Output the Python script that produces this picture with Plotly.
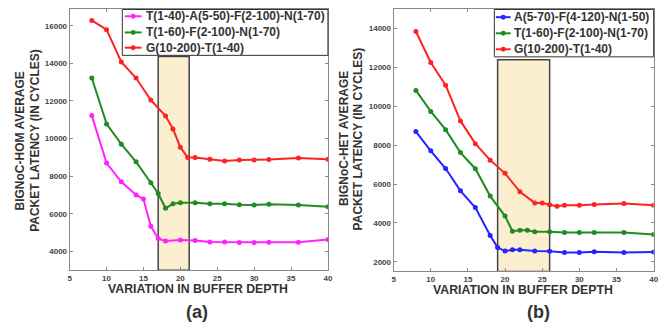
import plotly.graph_objects as go

# ---------------- data ----------------
# Panel (a) BIGNoC-HOM
a_mag_x = [8, 10, 12, 14, 15, 16, 17, 18, 20, 22, 24, 26, 28, 30, 32, 36, 40]
a_mag_y = [11220, 8700, 7700, 7000, 6780, 5330, 4680, 4550, 4600, 4580, 4500, 4500, 4470, 4470, 4480, 4480, 4630]
a_grn_x = [8, 10, 12, 14, 16, 17, 18, 19, 20, 22, 24, 26, 28, 30, 32, 36, 40]
a_grn_y = [13220, 10780, 9700, 8760, 7650, 7080, 6290, 6530, 6580, 6580, 6530, 6530, 6480, 6460, 6500, 6460, 6370]
a_red_x = [8, 10, 12, 14, 16, 18, 19, 20, 21, 22, 24, 26, 28, 30, 32, 36, 40]
a_red_y = [16280, 15790, 14070, 13220, 12050, 11200, 10510, 9540, 8990, 8990, 8900, 8810, 8865, 8865, 8880, 8970, 8900]
a_names = ["T(1-40)-A(5-50)-F(2-100)-N(1-70)", "T(1-60)-F(2-100)-N(1-70)", "G(10-200)-T(1-40)"]
a_band = [17, 21.2, 14370]

# Panel (b) BIGNoC-HET
b_blu_x = [8, 10, 12, 14, 16, 18, 19, 20, 21, 22, 24, 26, 28, 30, 32, 36, 40]
b_blu_y = [8700, 7710, 6800, 5650, 4790, 3350, 2730, 2550, 2620, 2620, 2550, 2540, 2480, 2480, 2520, 2480, 2500]
b_grn_x = [8, 10, 12, 14, 16, 18, 20, 21, 22, 23, 24, 26, 28, 30, 32, 36, 40]
b_grn_y = [10820, 9740, 8800, 7620, 6790, 5380, 4350, 3570, 3620, 3620, 3550, 3550, 3500, 3500, 3500, 3500, 3400]
b_red_x = [8, 10, 12, 14, 16, 18, 20, 22, 24, 25, 26, 27, 28, 30, 32, 36, 40]
b_red_y = [13850, 12260, 11090, 9250, 8080, 7230, 6550, 5600, 5030, 5030, 4930, 4860, 4910, 4910, 4950, 5000, 4910]
b_names = ["A(5-70)-F(4-120)-N(1-50)", "T(1-60)-F(2-100)-N(1-70)", "G(10-200)-T(1-40)"]
b_band = [19, 26, 12400]

x_ticks = [5, 10, 15, 20, 25, 30, 35, 40]
a_yticks = [4000, 6000, 8000, 10000, 12000, 14000, 16000]
b_yticks = [2000, 4000, 6000, 8000, 10000, 12000, 14000]

MAG, GRN, RED, BLU = "#FF22FF", "#1E8C1E", "#FF2222", "#2424FF"
FONT = "Liberation Sans"
TXT = "#333333"

# page has an 8px body margin: figure is 664x318 placed at (8, 8)
OFF = 8
W, H = 672 - OFF, 326 - OFF

def px(x):
    return (x - OFF) / W

def py(y):
    return 1 - (y - OFF) / H

fig = go.Figure()

def add(x, y, name, color, xa, ya):
    fig.add_trace(go.Scatter(
        x=x, y=y, name=name, mode="lines+markers",
        line=dict(color=color, width=2),
        marker=dict(color=color, size=5),
        xaxis=xa, yaxis=ya, showlegend=False))

add(a_mag_x, a_mag_y, a_names[0], MAG, "x", "y")
add(a_grn_x, a_grn_y, a_names[1], GRN, "x", "y")
add(a_red_x, a_red_y, a_names[2], RED, "x", "y")
add(b_blu_x, b_blu_y, b_names[0], BLU, "x2", "y2")
add(b_grn_x, b_grn_y, b_names[1], GRN, "x2", "y2")
add(b_red_x, b_red_y, b_names[2], RED, "x2", "y2")

tickfont = dict(family=FONT, size=8, color="#444", weight="bold")
axcommon = dict(showgrid=False, zeroline=False, showline=True, linecolor="#888",
                linewidth=1, mirror="ticks", ticks="inside", ticklen=3,
                tickcolor="#888", tickfont=tickfont, tickformat="d")

xa_dom = [px(68.3), px(329.3)]
xb_dom = [px(395.7), px(658.5)]
ya_dom = [py(270), 1]
yb_dom = [py(271.3), 1]

fig.update_layout(
    width=W, height=H, margin=dict(l=0, r=0, t=0, b=0),
    paper_bgcolor="white", plot_bgcolor="white",
    xaxis=dict(domain=xa_dom, range=[5, 40], tickvals=x_ticks, anchor="y", **axcommon),
    yaxis=dict(domain=ya_dom, range=[3000, 16890], tickvals=a_yticks, anchor="x", **axcommon),
    xaxis2=dict(domain=xb_dom, range=[5, 40], tickvals=x_ticks, anchor="y2", **axcommon),
    yaxis2=dict(domain=yb_dom, range=[1500, 15010], tickvals=b_yticks, anchor="x2", **axcommon),
    showlegend=False,
)

# shaded regions
fig.add_shape(type="rect", xref="x", yref="y", x0=a_band[0], x1=a_band[1],
              y0=3000, y1=a_band[2], fillcolor="#FCEFD0",
              line=dict(color="#444", width=1.5), layer="below")
fig.add_shape(type="rect", xref="x2", yref="y2", x0=b_band[0], x1=b_band[1],
              y0=1500, y1=b_band[2], fillcolor="#FCEFD0",
              line=dict(color="#444", width=1.5), layer="below")

# legends (drawn as boxes with sample lines)
def legend(box, rows, names, colors, sx0, sx1, tx):
    fig.add_shape(type="rect", xref="paper", yref="paper",
                  x0=px(box[0]), x1=px(box[1]), y0=py(box[3]), y1=py(box[2]),
                  fillcolor="white", line=dict(color="#333", width=1), layer="above")
    for yy, name, col in zip(rows, names, colors):
        fig.add_shape(type="line", xref="paper", yref="paper",
                      x0=px(sx0), x1=px(sx1), y0=py(yy), y1=py(yy),
                      line=dict(color=col, width=2), layer="above")
        mx = (sx0 + sx1) / 2
        fig.add_shape(type="circle", xref="paper", yref="paper",
                      x0=px(mx - 2.5), x1=px(mx + 2.5), y0=py(yy + 2.5), y1=py(yy - 2.5),
                      fillcolor=col, line=dict(color=col, width=0), layer="above")
        fig.add_annotation(text=name, x=px(tx), y=py(yy), xref="paper", yref="paper",
                           xanchor="left", yanchor="middle", showarrow=False,
                           font=dict(family=FONT, size=12, color=TXT, weight="bold"))

legend([121.5, 329.3, 8.5, 54.5], [15.3, 31.5, 46.8], a_names, [MAG, GRN, RED], 124, 141, 143)
legend([497.5, 658.5, 8.5, 56], [16.2, 32.4, 48.4], b_names, [BLU, GRN, RED], 499, 514, 515.5)

def ann(text, x, y, angle=0, size=12):
    fig.add_annotation(text=text, x=px(x), y=py(y), xref="paper", yref="paper",
                       showarrow=False, textangle=angle,
                       font=dict(family=FONT, size=size, color=TXT, weight="bold"),
                       xanchor="center", yanchor="middle")

ann("BIGNoC-HOM AVERAGE", 18, 140, -90)
ann("PACKET LATENCY (IN CYCLES)", 32.5, 140, -90)
ann("BIGNoC-HET AVERAGE", 345, 138, -90)
ann("PACKET LATENCY (IN CYCLES)", 359.5, 138, -90)
ann("VARIATION IN BUFFER DEPTH", 198, 288.5, size=12.3)
ann("VARIATION IN BUFFER DEPTH", 526, 290, size=12.3)
ann("(a)", 197, 312, size=18)
ann("(b)", 542, 312, size=18)

fig.write_html("out.html")
